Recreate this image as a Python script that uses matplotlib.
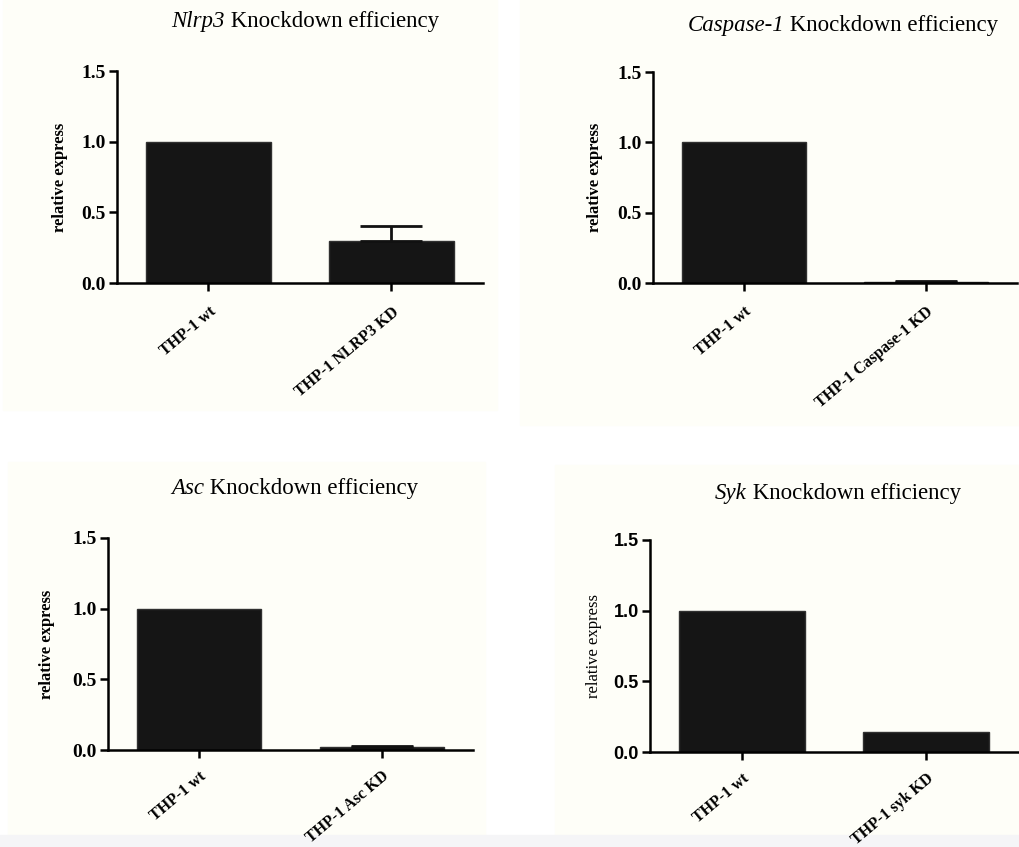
import matplotlib
matplotlib.use("Agg")
import matplotlib.pyplot as plt
from matplotlib.patches import Rectangle

plt.rcParams["font.family"] = ["Liberation Serif", "DejaVu Serif"]

# 数据
genes = ["Nlrp3", "Caspase-1", "Asc", "Syk"]
title_rest = " Knockdown efficiency"
xlabels = [["THP-1 wt", "THP-1 NLRP3 KD"],
           ["THP-1 wt", "THP-1 Caspase-1 KD"],
           ["THP-1 wt", "THP-1 Asc KD"],
           ["THP-1 wt", "THP-1 syk KD"]]
values = [[1.0, 0.30], [1.0, 0.004], [1.0, 0.02], [1.0, 0.14]]
errors = [[0.0, 0.10], [0.0, 0.008], [0.0, 0.01], [0.0, 0.0]]
yticks = [0.0, 0.5, 1.0, 1.5]

fig = plt.figure(figsize=(10.2, 8.47), dpi=100)
W, H = 1020, 847

# 面板底色
for (x0, y0, x1, y1) in [(3, 0, 497, 410), (520, 0, 1020, 425),
                         (8, 462, 485, 835), (555, 465, 1020, 835)]:
    fig.patches.append(Rectangle((x0 / W, 1 - y1 / H), (x1 - x0) / W, (y1 - y0) / H,
                                 transform=fig.transFigure, color="#fefef8", zorder=-5))
fig.patches.append(Rectangle((0, 0), 1, 12 / H, transform=fig.transFigure,
                             color="#f5f5f7", zorder=-5))

# 坐标轴位置 (left, top, right, bottom) 像素
boxes = [(117, 71, 483, 283), (653, 72, 1017, 283),
         (108, 538, 473, 750), (650, 540, 1018, 752)]
title_pos = [(305, 22), (843, 25), (295, 488), (838, 493)]
ylab_x = [-0.134, -0.137, -0.145, -0.13]
xpad = [9, 9, 7, 7]

renderer = fig.canvas.get_renderer()

for i in range(4):
    l, t, r, b = boxes[i]
    ax = fig.add_axes([l / W, 1 - b / H, (r - l) / W, (b - t) / H], zorder=2)
    ax.patch.set_alpha(0)
    x = [0, 1]
    ax.bar(x, values[i], width=0.68, color="#151515", edgecolor="#303030", linewidth=1)
    if errors[i][1] > 0:
        ax.errorbar([1], [values[i][1]], yerr=[[0], [errors[i][1]]], fmt="none",
                    ecolor="#111111", elinewidth=2, capsize=22, capthick=2)
    ax.set_xlim(-0.5, 1.5)
    ax.set_ylim(0, 1.5)
    ax.set_yticks(yticks)
    if i == 3:
        ax.set_yticklabels(["%.1f" % v for v in yticks], fontweight="bold",
                           family="Liberation Sans", fontsize=13)
        ax.set_ylabel("relative express", fontsize=12)
    else:
        ax.set_yticklabels(["%.1f" % v for v in yticks], fontweight="bold",
                           fontsize=14)
        ax.set_ylabel("relative express", fontsize=12, fontweight="bold")
    ax.yaxis.set_label_coords(ylab_x[i], 0.5)
    ax.set_xticks(x)
    ax.set_xticklabels(xlabels[i], rotation=40, ha="right", rotation_mode="anchor",
                       fontsize=11.5, fontweight="bold")
    for s in ["top", "right"]:
        ax.spines[s].set_visible(False)
    for s in ["left", "bottom"]:
        ax.spines[s].set_linewidth(1.8)
    ax.tick_params(axis="both", width=1.8, length=6, direction="out")
    ax.tick_params(axis="x", pad=xpad[i])
    ax.tick_params(axis="y", pad=2)

    # 标题：斜体基因名 + 正体
    tx, ty = title_pos[i]
    t1 = fig.text(0, 1 - ty / H, genes[i], style="italic", fontsize=16.5,
                  ha="left", va="center")
    t2 = fig.text(0, 1 - ty / H, title_rest, fontsize=16.5, ha="left", va="center")
    w1 = t1.get_window_extent(renderer).width
    w2 = t2.get_window_extent(renderer).width
    x0 = tx - (w1 + w2) / 2
    t1.set_x(x0 / W)
    t2.set_x((x0 + w1) / W)

fig.savefig("out.png", dpi=100)
